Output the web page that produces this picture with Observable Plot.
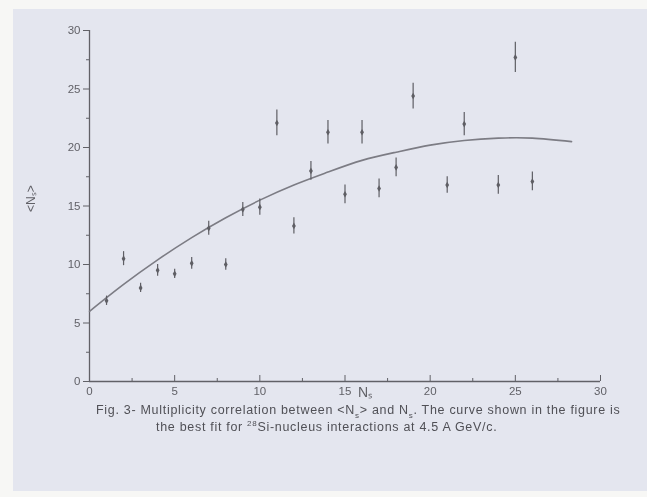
<!DOCTYPE html>
<html><head><meta charset="utf-8">
<script src="https://cdn.jsdelivr.net/npm/d3@7"></script>
<script src="https://cdn.jsdelivr.net/npm/@observablehq/plot@0.6"></script>
<style>
html,body{margin:0;padding:0;background:#f7f7f5;width:647px;height:497px;overflow:hidden;}
#page{position:absolute;left:13px;top:9px;width:634px;height:482px;background:#e4e6ef;}
#chart{position:absolute;left:0;top:0;filter:blur(0.45px);}
.cap{position:absolute;white-space:nowrap;font-family:"Liberation Sans",Arial,sans-serif;font-size:12.5px;letter-spacing:0.7px;line-height:14px;color:#505056;filter:blur(0.55px);}
.cap sub,.cap sup{font-size:8px;line-height:0;}
</style></head>
<body>
<div id="page"></div>
<div id="chart"></div>
<div class="cap" style="left:96px;top:403px;">Fig. 3- Multiplicity correlation between &lt;N<sub>s</sub>&gt; and N<sub>s</sub>. The curve shown in the figure is</div>
<div class="cap" style="left:156px;top:420px;">the best fit for <sup>28</sup>Si-nucleus interactions at 4.5 A GeV/c.</div>
<script>
// measured points
const ns   = [1, 2, 3, 4, 5, 6, 7, 8, 9, 10, 11, 12, 13, 14, 15, 16, 17, 18, 19, 21, 22, 24, 25, 26];
const mean = [6.9, 10.5, 8.0, 9.5, 9.2, 10.1, 13.1, 10.0, 14.7, 14.9, 22.1, 13.3, 18.0, 21.3, 16.0, 21.3, 16.5, 18.3, 24.4, 16.8, 22.0, 16.8, 27.7, 17.1];
const err  = [0.4, 0.6, 0.4, 0.5, 0.4, 0.5, 0.6, 0.5, 0.6, 0.7, 1.1, 0.7, 0.8, 1.0, 0.8, 1.0, 0.8, 0.8, 1.1, 0.7, 1.0, 0.8, 1.3, 0.8];
// fitted curve
const fitX = [0, 2, 4, 6, 8, 10, 12, 14, 16, 18, 20, 22, 24, 26, 28.3];
const fitY = [6.0, 8.3, 10.4, 12.3, 14.0, 15.5, 16.8, 17.9, 18.9, 19.6, 20.2, 20.6, 20.8, 20.8, 20.5];
// ticks
const xMajor = [0, 5, 10, 15, 20, 25, 30];
const xMinor = [2.5, 7.5, 12.5, 17.5, 22.5, 27.5];
const yMajor = [0, 5, 10, 15, 20, 25, 30];
const yMinor = [2.5, 7.5, 12.5, 17.5, 22.5, 27.5];

const pts = ns.map((x, i) => ({x, y: mean[i], e: err[i]}));
const fit = fitX.map((x, i) => ({x, y: fitY[i]}));

const ink = "#616167";
const plot = Plot.plot({
  width: 647, height: 405,
  marginLeft: 89, marginRight: 47, marginTop: 30, marginBottom: 24,
  style: {background: "transparent", fontFamily: "Liberation Sans, Arial, sans-serif", fontSize: "11.5px", color: ink},
  x: {domain: [0, 30]},
  y: {domain: [0, 30]},
  marks: [
    Plot.ruleY([0], {stroke: ink, strokeWidth: 1.3}),
    Plot.ruleX([0], {stroke: ink, strokeWidth: 1.3}),
    Plot.axisY({ticks: yMajor, tickSize: 6, tickPadding: 3, label: null, stroke: ink}),
    Plot.axisY({ticks: yMinor, tickSize: 3, tickFormat: () => "", label: null, stroke: ink}),
    Plot.axisX({ticks: xMajor, tickSize: -6, tickFormat: () => "", label: null, stroke: ink}),
    Plot.axisX({ticks: xMinor, tickSize: -3, tickFormat: () => "", label: null, stroke: ink}),
    Plot.axisX({ticks: xMajor, tickSize: 0, tickPadding: 5, label: null}),
    Plot.text(["Nₛ"], {frameAnchor: "bottom", dx: 20, dy: 15, fontSize: 14, fill: ink}),
    Plot.text(["<Nₛ>"], {frameAnchor: "left", dx: -58, dy: 6, rotate: -90, fontSize: 12, fill: ink}),
    Plot.line(fit, {x: "x", y: "y", curve: "natural", stroke: "#7c7c84", strokeWidth: 1.6}),
    Plot.ruleX(pts, {x: "x", y1: d => d.y - d.e, y2: d => d.y + d.e, stroke: "#5e5e64", strokeWidth: 1.2}),
    Plot.dot(pts, {x: "x", y: "y", symbol: "diamond", r: 2, fill: "#5e5e64"})
  ]
});
document.getElementById("chart").appendChild(plot);
</script>
</body></html>
